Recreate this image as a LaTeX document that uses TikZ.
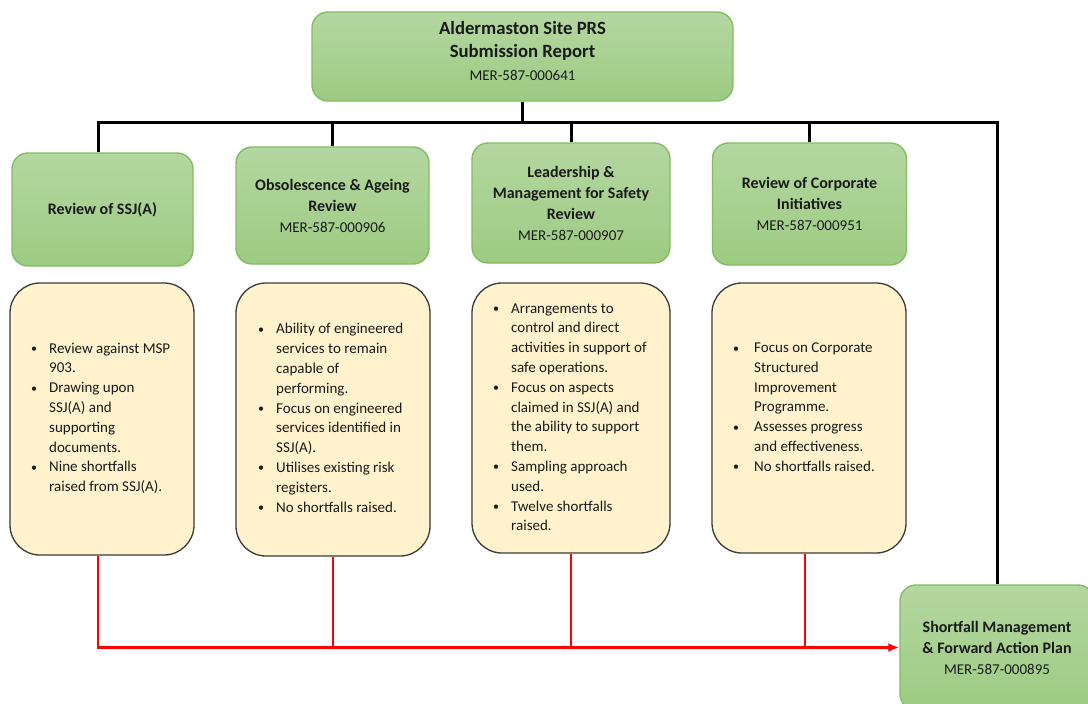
\documentclass[tikz,border=0pt]{standalone}
\usepackage{fontspec}
\setmainfont{Carlito}
\usetikzlibrary{arrows.meta}
\definecolor{gtop}{HTML}{B4D7A1}
\definecolor{gbot}{HTML}{9DCB82}
\definecolor{gline}{HTML}{84BC63}
\definecolor{yfill}{HTML}{FFF2CC}
\definecolor{yline}{HTML}{3A3A3A}
\definecolor{txt}{HTML}{1A1A1A}
\newcommand{\bul}{\raisebox{0.5pt}{\scalebox{0.8}{\textbullet}}}
\newcommand{\mer}[1]{{\fontsize{15}{20}\selectfont #1}}
\begin{document}
\begin{tikzpicture}[x=1pt,y=-1pt,
  gbox/.style={draw=gline, line width=1.4pt, top color=gtop, bottom color=gbot,
    rounded corners=16pt, inner sep=0pt, align=center, text=txt,
    font=\fontsize{16}{21}\selectfont},
  ybox/.style={draw=yline, line width=1.3pt, fill=yfill, rounded corners=30pt, inner sep=0pt},
  ytext/.style={anchor=west, inner sep=0pt, text=txt, font=\fontsize{15}{19.8}\selectfont},
  blk/.style={line width=3pt, black},
  redl/.style={line width=2.6pt, red}]
\clip (0,0) rectangle (1088,704);
\fill[white] (0,0) rectangle (1088,704);

% top box
\node[gbox, minimum width=421pt, minimum height=89pt, font=\fontsize{18.7}{23}\selectfont] (top) at (522.5,56.5)
  {\textbf{Aldermaston Site PRS}\\\textbf{Submission Report}\\\mer{MER-587-000641}\rule[-11pt]{0pt}{1pt}};

% green boxes
\node[gbox, minimum width=181pt, minimum height=113pt] (g1) at (102.5,209.5) {\textbf{Review of SSJ(A)}};
\node[gbox, minimum width=193pt, minimum height=117pt] (g2) at (332.5,205.5)
  {\textbf{Obsolescence \& Ageing}\\\textbf{Review}\\\mer{MER-587-000906}};
\node[gbox, minimum width=198pt, minimum height=120pt] (g3) at (571,203)
  {\textbf{Leadership \&}\\\textbf{Management for Safety}\\\textbf{Review}\\\mer{MER-587-000907}};
\node[gbox, minimum width=194pt, minimum height=122pt] (g4) at (809.5,204)
  {\textbf{Review of Corporate}\\\textbf{Initiatives}\\\mer{MER-587-000951}};

% bottom-right box
\node[gbox, minimum width=194pt, minimum height=125pt] (sf) at (997,647.5)
  {\textbf{Shortfall Management}\\\textbf{\& Forward Action Plan}\\\mer{MER-587-000895}};

% yellow boxes
\node[ybox, minimum width=184pt, minimum height=272pt] (y1) at (102,419) {};
\node[ybox, minimum width=194pt, minimum height=273pt] (y2) at (333,419.5) {};
\node[ybox, minimum width=198pt, minimum height=270pt] (y3) at (571,418) {};
\node[ybox, minimum width=194pt, minimum height=270pt] (y4) at (809,418) {};

\node[ytext] (t1) at (31,418.5) {\begin{tabular}{@{}p{18pt}@{}l@{}}
\bul & Review against MSP\\
 & 903.\\
\bul & Drawing upon\\
 & SSJ(A) and\\
 & supporting\\
 & documents.\\
\bul & Nine shortfalls\\
 & raised from SSJ(A).
\end{tabular}};

\node[ytext] (t2) at (258,419) {\begin{tabular}{@{}p{18pt}@{}l@{}}
\bul & Ability of engineered\\
 & services to remain\\
 & capable of\\
 & performing.\\
\bul & Focus on engineered\\
 & services identified in\\
 & SSJ(A).\\
\bul & Utilises existing risk\\
 & registers.\\
\bul & No shortfalls raised.
\end{tabular}};

\node[ytext] (t3) at (493,418) {\begin{tabular}{@{}p{18pt}@{}l@{}}
\bul & Arrangements to\\
 & control and direct\\
 & activities in support of\\
 & safe operations.\\
\bul & Focus on aspects\\
 & claimed in SSJ(A) and\\
 & the ability to support\\
 & them.\\
\bul & Sampling approach\\
 & used.\\
\bul & Twelve shortfalls\\
 & raised.
\end{tabular}};

\node[ytext] (t4) at (733,408) {\begin{tabular}{@{}p{21pt}@{}l@{}}
\bul & Focus on Corporate\\
 & Structured\\
 & Improvement\\
 & Programme.\\
\bul & Assesses progress\\
 & and effectiveness.\\
\bul & No shortfalls raised.
\end{tabular}};

% black connectors
\coordinate (bus) at (0,122);
\draw[blk] (top.south) -- (top.south |- bus);
\draw[blk] ([xshift=-4.5pt]g1.north) -- ([xshift=-4.5pt]g1.north |- bus) -| (sf.north);
\draw[blk] (g2.north) -- (g2.north |- bus);
\draw[blk] (g3.north) -- (g3.north |- bus);
\draw[blk] (g4.north) -- (g4.north |- bus);

% red connectors
\draw[redl, -{Latex[length=11pt,width=9pt]}] ([xshift=-4pt]y1.south) |- (sf.west);
\draw[redl] (y2.south) -- (y2.south |- sf.west);
\draw[redl] (y3.south) -- (y3.south |- sf.west);
\draw[redl] ([xshift=-4pt]y4.south) -- ([xshift=-4pt]y4.south |- sf.west);
\end{tikzpicture}
\end{document}
